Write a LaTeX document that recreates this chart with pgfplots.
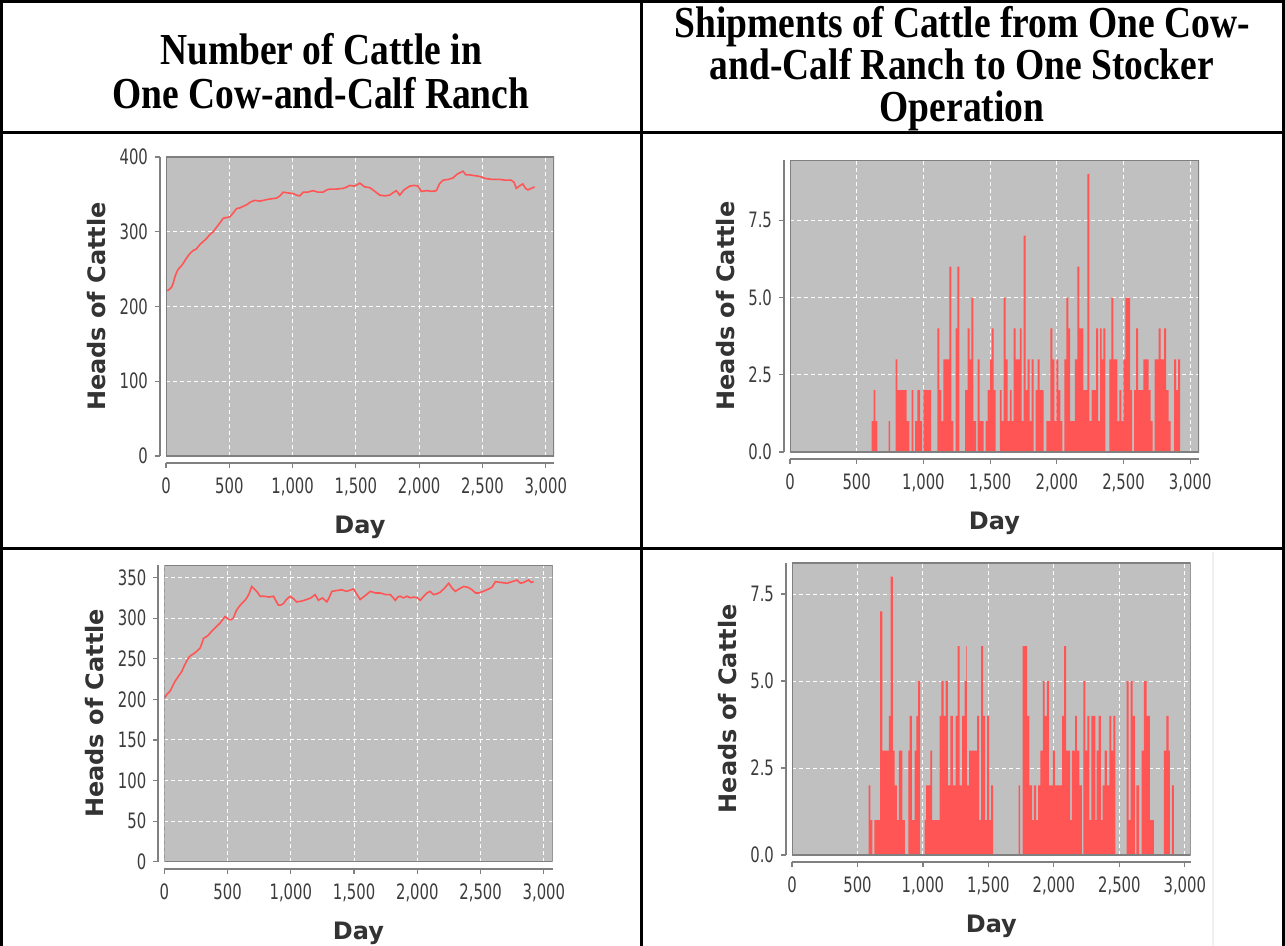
\documentclass[border=0pt]{standalone}
\usepackage{fontspec}
\usepackage{pgfplots}
\pgfplotsset{compat=1.18}
\setmainfont{DejaVu Sans}
\newfontfamily\headfont{Liberation Serif}
\newfontfamily\tickfont{DejaVu Sans}[FakeStretch=0.7]
\definecolor{plotbg}{RGB}{192,192,192}
\definecolor{framegray}{RGB}{128,128,128}
\definecolor{axgray}{RGB}{128,128,128}
\definecolor{tickgray}{RGB}{60,60,60}
\definecolor{labgray}{RGB}{51,51,51}
\definecolor{jred}{RGB}{255,85,85}
\definecolor{zred}{RGB}{135,45,45}
\pgfplotsset{
 jf/.style={
  scale only axis, anchor=south west,
  axis background/.style={fill=plotbg},
  axis lines*=left, separate axis lines,
  axis x line shift=3.5pt, axis y line shift=3pt,
  axis line style={axgray, line width=0.9pt},
  tick align=outside, major tick length=2.5pt,
  every tick/.style={axgray, line width=0.6pt},
  grid=major,
  major grid style={white, line width=0.5pt, dash pattern=on 2pt off 1.5pt},
  xmin=0, xtick={0,500,1000,1500,2000,2500,3000},
  scaled ticks=false,
  /pgf/number format/assume math mode=true,
  /pgf/number format/1000 sep={,},
  ticklabel style={font=\tickfont\fontsize{10.6}{12}\selectfont, text=tickgray},
  xticklabel style={yshift=-1.5pt},
  xlabel={Day}, ylabel={Heads of Cattle},
  label style={font=\bfseries\fontsize{12}{14}\selectfont, text=labgray},
  xlabel style={yshift=-3pt},
 },
 barchart/.style={
  ymin=0, ytick={0,2.5,5,7.5},
  yticklabel style={/pgf/number format/.cd, fixed, fixed zerofill, precision=1},
 },
}
\begin{document}
\begin{tikzpicture}
\useasboundingbox (0,0) rectangle (642.5pt,-473pt);
% table rules
\draw[line width=1.5pt] (0.75pt,-473pt) -- (0.75pt,-0.75pt) -- (641.75pt,-0.75pt) -- (641.75pt,-473pt);
\draw[line width=1.5pt] (0.75pt,-66.5pt) -- (641.75pt,-66.5pt);
\draw[line width=1.5pt] (0.75pt,-274pt) -- (641.75pt,-274pt);
\draw[line width=1.5pt] (320.5pt,-0.75pt) -- (320.5pt,-473pt);
\draw[gray!12, line width=0.6pt] (606.5pt,-276pt) -- (606.5pt,-473pt);
% headers
\begin{scope}[every node/.style={anchor=base, inner sep=0pt, yscale=1.18, font=\headfont\bfseries\fontsize{18.75}{22}\selectfont}]
\node at (160.5pt,-32.5pt) {Number of Cattle in};
\node at (160.5pt,-54.5pt) {One Cow-and-Calf Ranch};
\node at (481pt,-19pt) {Shipments of Cattle from One Cow-};
\node at (481pt,-40pt) {and-Calf Ranch to One Stocker};
\node at (481pt,-61pt) {Operation};
\end{scope}

% top-left
\begin{axis}[jf, at={(83pt,-228pt)}, width=194pt, height=149.5pt,
  xmax=3065, ymin=0, ymax=400, ytick={0,100,200,300,400}]
\addplot[jred, line width=0.8pt] coordinates {
(0,221)(20,222)(45,226)(60,233)(71,240)(85,246)(97,250)(120,254)(137,258)(155,263)
(176,268)(195,272)(216,275)(240,277)(268,283)(295,287)(321,291)(345,296)(373,300)
(395,305)(413,309)(435,314)(452,318)(480,319)(505,320)(530,325)(558,331)(585,332)
(610,334)(636,336)(670,340)(702,342)(740,341)(770,342)(794,343)(830,344)(873,345)
(900,348)(926,353)(960,352)(1005,351)(1030,349)(1057,348)(1084,353)(1120,353)
(1162,355)(1200,353)(1241,353)(1270,356)(1294,357)(1340,357)(1399,358)(1430,360)
(1452,362)(1490,361)(1531,365)(1570,360)(1610,359)(1650,354)(1688,349)(1730,348)
(1767,349)(1800,353)(1820,355)(1846,349)(1880,356)(1925,361)(1960,362)(1991,361)
(2017,354)(2060,355)(2100,354)(2136,355)(2160,364)(2188,369)(2230,370)(2267,372)
(2300,377)(2346,381)(2370,376)(2399,376)(2440,375)(2478,374)(2510,372)(2531,371)
(2580,370)(2636,370)(2680,369)(2727,369)(2750,366)(2767,358)(2790,361)(2819,364)
(2840,358)(2859,356)(2885,358)(2912,360)};
\draw[framegray, line width=0.9pt] (rel axis cs:0,0) rectangle (rel axis cs:1,1);
\end{axis}

% bottom-left
\begin{axis}[jf, at={(82.15pt,-430.85pt)}, width=194.2pt, height=148.35pt,
  xmax=3070, ymin=0, ymax=365.5, ytick={0,50,100,150,200,250,300,350}]
\addplot[jred, line width=0.8pt] coordinates {
(0,201)(20,206)(45,210)(65,216)(84,222)(110,228)(137,234)(160,242)(190,251)(210,254)
(230,256)(255,259)(282,263)(300,270)(309,275)(330,277)(348,279)(370,283)(388,286)
(415,290)(441,294)(460,298)(480,302)(506,299)(525,298)(546,300)(560,306)(572,310)
(590,314)(612,318)(632,321)(652,325)(670,330)(691,339)(710,336)(731,333)(757,327)
(790,327)(830,326)(863,327)(880,322)(902,316)(920,316)(942,318)(965,323)(995,327)
(1020,324)(1047,320)(1085,321)(1126,323)(1160,325)(1192,329)(1218,322)(1250,325)
(1285,320)(1305,326)(1324,333)(1360,334)(1403,335)(1440,333)(1496,336)(1520,330)
(1548,323)(1590,328)(1628,333)(1670,331)(1707,331)(1750,329)(1786,329)(1805,326)
(1825,322)(1845,326)(1865,327)(1890,325)(1918,327)(1945,325)(1970,326)(2000,325)
(2023,322)(2050,327)(2076,331)(2100,333)(2129,329)(2155,330)(2182,332)(2215,337)
(2248,343)(2275,337)(2300,333)(2330,336)(2366,339)(2400,338)(2432,335)(2460,331)
(2485,331)(2520,333)(2551,335)(2590,338)(2617,345)(2660,344)(2709,343)(2750,345)
(2788,347)(2815,343)(2841,344)(2865,346)(2881,347)(2900,344)(2920,345)};
\draw[framegray, line width=0.9pt] (rel axis cs:0,0) rectangle (rel axis cs:1,1);
\end{axis}

% top-right
\begin{axis}[jf, barchart, at={(395pt,-226pt)}, width=204.5pt, height=146pt,
  xmax=3066, ymax=9.45]
\addplot[const plot, fill=jred, draw=none] coordinates {
(0,0)(612,1)(627,2)(640,1)(655,0)(740,1)(750,0)(792,3)(805,2)(875,1)(895,0)(912,2)
(925,0)(937,1)(955,2)(975,1)(990,0)(1000,2)(1057,0)(1105,4)(1120,2)(1135,1)(1150,3)
(1195,6)(1210,1)(1225,0)(1242,4)(1255,6)(1270,0)(1312,2)(1332,4)(1347,3)(1360,5)
(1375,1)(1395,0)(1407,3)(1422,1)(1452,0)(1467,1)(1482,2)(1500,3)(1512,4)(1527,2)
(1542,0)(1574,2)(1587,1)(1602,5)(1617,3)(1632,1)(1649,2)(1662,1)(1677,4)(1692,3)
(1724,4)(1737,1)(1752,7)(1767,2)(1782,3)(1797,1)(1812,3)(1827,0)(1842,2)(1857,3)
(1872,2)(1902,0)(1922,1)(1952,4)(1967,3)(1982,1)(1997,3)(2012,2)(2027,1)(2042,0)
(2057,3)(2072,5)(2087,4)(2099,1)(2136,3)(2154,6)(2169,4)(2199,2)(2229,9)(2244,1)
(2261,2)(2294,4)(2309,1)(2324,4)(2336,3)(2349,4)(2364,0)(2394,3)(2409,5)(2424,3)
(2454,1)(2469,2)(2484,1)(2499,3)(2514,5)(2549,2)(2564,0)(2579,2)(2594,4)(2609,2)
(2649,3)(2689,2)(2704,1)(2719,0)(2734,3)(2764,4)(2779,3)(2804,4)(2819,2)(2839,1)
(2854,0)(2879,3)(2894,2)(2909,3)(2924,0)} \closedcycle;
\addplot[zred, line width=1pt] coordinates {(0,0)(2924,0)};
\draw[framegray, line width=0.9pt] (rel axis cs:0,0) rectangle (rel axis cs:1,1);
\end{axis}

% bottom-right
\begin{axis}[jf, barchart, at={(396pt,-427.5pt)}, width=199.35pt, height=146.15pt,
  xmax=3045, ymax=8.4]
\addplot[const plot, fill=jred, draw=none] coordinates {
(0,0)(585,2)(598,1)(613,0)(629,1)(673,7)(690,3)(740,4)(753,8)(771,3)(784,2)(801,1)
(816,3)(842,1)(862,0)(888,3)(898,4)(916,1)(936,3)(949,4)(964,5)(979,0)(1013,1)
(1025,2)(1056,3)(1071,1)(1127,4)(1140,5)(1158,4)(1173,5)(1191,2)(1209,4)(1229,2)
(1249,4)(1265,6)(1280,2)(1300,4)(1318,5)(1331,6)(1336,2)(1352,3)(1413,4)(1429,1)
(1444,6)(1459,4)(1475,1)(1490,4)(1505,1)(1521,2)(1536,0)(1731,2)(1743,0)(1761,6)
(1795,4)(1813,2)(1833,1)(1848,2)(1864,1)(1879,2)(1897,3)(1915,5)(1930,4)(1946,5)
(1961,2)(1992,3)(2007,2)(2063,4)(2079,6)(2094,3)(2124,1)(2137,3)(2162,4)(2175,3)
(2195,2)(2213,0)(2226,5)(2241,3)(2256,4)(2271,1)(2287,4)(2317,1)(2327,3)(2342,4)
(2358,1)(2373,2)(2388,3)(2404,2)(2424,4)(2439,3)(2454,4)(2469,0)(2556,5)(2571,1)
(2586,5)(2602,4)(2619,0)(2630,2)(2651,0)(2670,3)(2688,5)(2708,4)(2734,1)(2764,0)
(2840,3)(2860,4)(2876,3)(2886,0)(2901,2)(2916,0)} \closedcycle;
\addplot[zred, line width=1pt] coordinates {(0,0)(2920,0)};
\draw[framegray, line width=0.9pt] (rel axis cs:0,0) rectangle (rel axis cs:1,1);
\end{axis}
\end{tikzpicture}
\end{document}
